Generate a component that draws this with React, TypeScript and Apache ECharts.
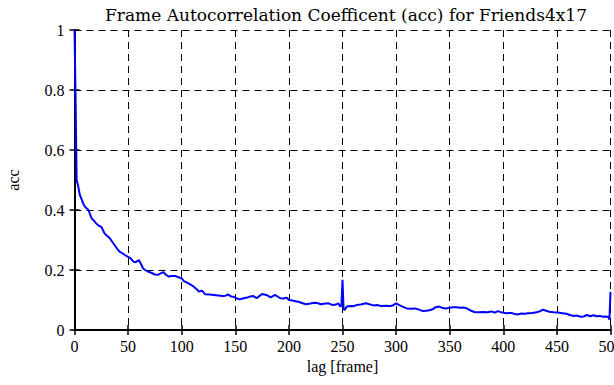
import React, { useEffect, useRef } from "react";
import * as echarts from "echarts";

const titleText = "Frame Autocorrelation Coefficent (acc) for Friends4x17";
const xAxisName = "lag [frame]";
const yAxisName = "acc";

const lags = [
  0, 1, 2, 3, 5, 7, 8, 10, 13, 16, 18, 20, 23, 25, 28, 30, 33, 35, 38, 40, 42, 45, 47, 50, 52, 55, 57, 60, 62, 64, 66, 69, 72, 75, 78, 81, 83, 85, 88, 91, 94, 97,
  100, 102, 105, 108, 111, 114, 116, 119, 122, 126, 130, 134, 138, 141, 143, 146, 148, 151, 154, 157, 161, 164, 167, 170, 172, 175, 179, 183, 187, 190, 192, 195, 198,
  200, 203, 206, 209, 212, 216, 220, 224, 227, 230, 234, 237, 241, 244, 246, 248, 249, 250, 251, 252, 254, 257, 260, 263, 267, 272, 275, 279, 282, 286, 290, 294, 297,
  300, 303, 306, 310, 314, 318, 322, 325, 328, 331, 334, 337, 340, 343, 346, 349, 353, 356, 360, 363, 366, 370, 373, 377, 381, 385, 389, 392, 395, 399,
  403, 407, 410, 413, 417, 420, 423, 427, 431, 434, 437, 440, 443, 447, 451, 455, 459, 462, 466, 469, 472, 475, 478, 481, 484, 487, 490, 493, 496, 498, 499, 500,
];

const accValues = [
  1.0, 0.78, 0.5, 0.487, 0.45, 0.433, 0.422, 0.41, 0.4, 0.372, 0.365, 0.356, 0.347, 0.344, 0.322, 0.315, 0.306, 0.295, 0.28, 0.27, 0.261, 0.255, 0.25, 0.244, 0.24, 0.228, 0.226, 0.233, 0.22, 0.205, 0.2, 0.194, 0.19, 0.185, 0.184, 0.19, 0.193, 0.185, 0.178, 0.18, 0.18, 0.176,
  0.172, 0.163, 0.158, 0.152, 0.145, 0.136, 0.128, 0.131, 0.119, 0.118, 0.117, 0.115, 0.113, 0.114, 0.119, 0.112, 0.111, 0.106, 0.102, 0.105, 0.108, 0.112, 0.113, 0.106, 0.112, 0.12, 0.117, 0.109, 0.117, 0.11, 0.106, 0.105, 0.108,
  0.1, 0.098, 0.096, 0.094, 0.09, 0.086, 0.088, 0.091, 0.089, 0.086, 0.088, 0.089, 0.083, 0.085, 0.089, 0.078, 0.082, 0.167, 0.07, 0.067, 0.078, 0.08, 0.079, 0.083, 0.085, 0.089, 0.086, 0.082, 0.083, 0.08, 0.081, 0.08, 0.082,
  0.089, 0.083, 0.078, 0.072, 0.071, 0.072, 0.067, 0.063, 0.064, 0.066, 0.069, 0.076, 0.078, 0.074, 0.072, 0.073, 0.076, 0.076, 0.074, 0.075, 0.072, 0.064, 0.06, 0.059, 0.06, 0.059, 0.062, 0.058, 0.063, 0.058,
  0.056, 0.057, 0.054, 0.052, 0.055, 0.054, 0.056, 0.057, 0.059, 0.062, 0.068, 0.064, 0.061, 0.059, 0.058, 0.056, 0.054, 0.05, 0.047, 0.048, 0.044, 0.045, 0.05, 0.046, 0.049, 0.046, 0.047, 0.044, 0.045, 0.043, 0.035, 0.127,
];

const xMin = 0;
const xMax = 500;
const xStep = 50;
const yMin = 0;
const yMax = 1;
const yStep = 0.2;

const FONT = "'Liberation Serif', 'Times New Roman', serif";
const TITLE_FONT = "'DejaVu Serif', serif";

export default function App() {
  const ref = useRef<HTMLDivElement>(null);
  useEffect(() => {
    if (!ref.current) return;
    const chart = echarts.init(ref.current, null, { renderer: "svg" });
    const data = lags.map((l, i) => [l, accValues[i]]);
    const tickStyle = { inside: true, length: 5, lineStyle: { color: "#000", width: 1.5 } };
    const axisLine = { show: true, lineStyle: { color: "#000", width: 2 } };
    const split = { show: true, lineStyle: { color: "#000", type: [7, 5] as any, width: 1 } };
    chart.setOption({
      animation: false,
      backgroundColor: "#fff",
      title: {
        text: titleText,
        left: 341,
        textAlign: "center",
        top: 1,
        textStyle: { fontFamily: TITLE_FONT, fontSize: 17, fontWeight: "normal", color: "#000" },
      },
      grid: {
        left: 74.5,
        right: 3.5,
        top: 30,
        bottom: 55,
        containLabel: false,
        outerBoundsMode: "none",
      },
      xAxis: [
        {
          type: "value",
          min: xMin,
          max: xMax,
          interval: xStep,
          position: "bottom",
          name: xAxisName,
          nameLocation: "middle",
          nameGap: 25,
          nameTextStyle: { fontFamily: FONT, fontSize: 16, color: "#000" },
          axisLine,
          axisTick: tickStyle,
          splitLine: split,
          axisLabel: { fontFamily: FONT, fontSize: 16, color: "#000", margin: 8, showMaxLabel: true, showMinLabel: true, hideOverlap: false },
        },
        {
          type: "value",
          min: xMin,
          max: xMax,
          interval: xStep,
          position: "top",
          axisLine,
          axisTick: tickStyle,
          splitLine: { show: false },
          axisLabel: { show: false },
        },
      ],
      yAxis: [
        {
          type: "value",
          min: yMin,
          max: yMax,
          interval: yStep,
          position: "left",
          name: yAxisName,
          nameLocation: "middle",
          nameGap: 53,
          nameRotate: 90,
          nameTextStyle: { fontFamily: FONT, fontSize: 16, color: "#000" },
          axisLine,
          axisTick: tickStyle,
          splitLine: split,
          axisLabel: { fontFamily: FONT, fontSize: 16, color: "#000", margin: 10 },
        },
        {
          type: "value",
          min: yMin,
          max: yMax,
          interval: yStep,
          position: "right",
          axisLine,
          axisTick: tickStyle,
          splitLine: { show: false },
          axisLabel: { show: false },
        },
      ],
      series: [
        {
          type: "line",
          data,
          xAxisIndex: 0,
          yAxisIndex: 0,
          showSymbol: false,
          symbol: "none",
          lineStyle: { color: "#0000ff", width: 2 },
          z: 3,
        },
      ],
    });
    return () => chart.dispose();
  }, []);
  return <div ref={ref} style={{ position: "fixed", left: 0, top: 0, width: 614, height: 385 }} />;
}
